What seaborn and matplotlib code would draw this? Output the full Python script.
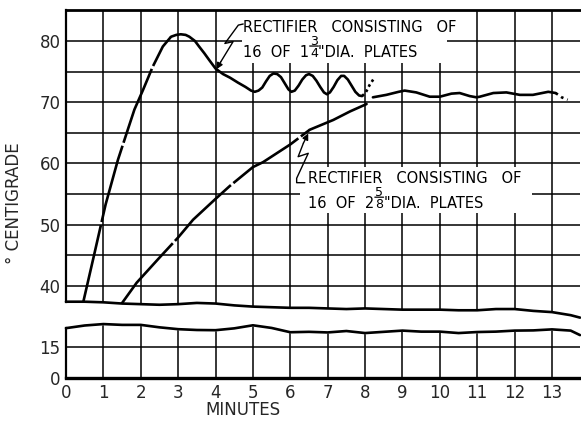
import matplotlib
matplotlib.use("Agg")
import matplotlib.pyplot as plt
from matplotlib.patches import Rectangle
from matplotlib.text import OffsetFrom
import seaborn as sns

# values: minutes, degrees centigrade
base_min = [0, 0.5, 1.0, 1.5, 2.0, 2.5, 3.0, 3.5, 4.0, 4.5, 5.0, 5.5, 6.0, 6.5, 7.0,
            7.5, 8.0, 8.5, 9.0, 9.5, 10.0, 10.5, 11.0, 11.5, 12.0, 12.5, 13.0, 13.5, 13.75]
base_temp = [37.4, 37.4, 37.3, 37.1, 37.0, 36.9, 37.0, 37.2, 37.1, 36.8, 36.6, 36.5, 36.4, 36.4,
             36.3, 36.2, 36.3, 36.2, 36.1, 36.1, 36.1, 36.0, 36.0, 36.2, 36.2, 35.9, 35.7, 35.2, 34.8]

low_min = base_min
low_temp = [24.4, 25.7, 26.4, 26.0, 26.0, 24.8, 23.9, 23.5, 23.4, 24.3, 25.8, 24.5, 22.4, 22.6,
            22.3, 23.0, 22.0, 22.6, 23.2, 22.7, 22.7, 22.0, 22.5, 22.7, 23.2, 23.3, 23.8, 23.2, 21.0]

# 1 3/4" plates
a_rise_min = [0.46, 0.75, 1.06, 1.39, 1.62, 1.83, 2.06, 2.32, 2.59, 2.81]
a_rise_temp = [37.3, 45.0, 53.3, 60.6, 64.9, 68.8, 72.0, 75.8, 79.1, 80.7]
a_min = [2.81, 2.95, 3.07, 3.2, 3.3, 3.45, 3.56, 3.7, 3.83, 4.0, 4.2, 4.39, 4.6, 4.8, 4.95,
         5.05, 5.15, 5.25, 5.35, 5.45, 5.55, 5.65, 5.75, 5.85, 5.95, 6.03, 6.12, 6.22, 6.32,
         6.42, 6.5, 6.6, 6.7, 6.8, 6.9, 6.98, 7.06, 7.16, 7.26, 7.36, 7.44, 7.54, 7.64, 7.74,
         7.84, 7.92]
a_temp = [80.7, 81.0, 81.1, 81.0, 80.7, 80.0, 79.1, 78.0, 76.9, 75.5, 74.6, 74.0, 73.2, 72.5, 71.9,
          71.7, 71.9, 72.4, 73.4, 74.3, 74.7, 74.6, 74.1, 73.1, 72.1, 71.7, 71.9, 72.7, 73.7,
          74.4, 74.6, 74.3, 73.5, 72.5, 71.6, 71.3, 71.6, 72.5, 73.6, 74.3, 74.3, 73.7, 72.7, 71.7,
          71.1, 71.0]
a_end_min = [7.92, 8.02, 8.12, 8.25]
a_end_temp = [71.0, 71.6, 72.8, 74.0]

# 2 5/8" plates
b_rise_min = [1.49, 1.89, 2.5, 3.0, 3.4, 4.0, 4.38, 5.0, 5.27, 6.0, 6.52]
b_rise_temp = [37.1, 40.5, 44.6, 47.9, 50.8, 54.2, 56.3, 59.4, 60.2, 63.1, 65.5]
b_min = [6.52, 7.15, 7.6, 8.04]
b_temp = [65.5, 67.1, 68.5, 69.7]
b_hold_min = [8.21, 8.57, 8.9, 9.06, 9.37, 9.73, 10.0, 10.31, 10.53, 10.8, 10.98, 11.07,
              11.43, 11.78, 12.14, 12.49, 12.9, 13.1]
b_hold_temp = [70.8, 71.2, 71.7, 71.9, 71.6, 70.9, 70.9, 71.4, 71.5, 71.0, 70.8, 70.9,
               71.5, 71.6, 71.2, 71.2, 71.7, 71.5]
b_end_min = [13.1, 13.26, 13.42]
b_end_temp = [71.5, 70.8, 70.4]

top_ticks = list(range(40, 86, 5))
low_ticks = [0, 15]
minutes = list(range(14))

sns.set_theme(style="white")
plt.rcParams["font.family"] = ["DejaVu Sans"]

TOP_LO, TOP_HI = 34.74, 85.07
LOW_HI = 28.4
XMAX = 13.75

fig = plt.figure(figsize=(5.81, 4.25), dpi=100)
ax = fig.add_axes([0.1136, 0.2518, 0.8847, 0.7247])
axl = fig.add_axes([0.1136, 0.1106, 0.8847, 0.1365])

curve = dict(color="black", lw=1.9, clip_on=False, zorder=3)
dash = (0, (30, 1.2))

# upper panel
ax.fill_between(base_min, TOP_LO - 1, base_temp, color="white", zorder=1)
sns.lineplot(x=base_min, y=base_temp, ax=ax, **curve)
sns.lineplot(x=a_rise_min, y=a_rise_temp, ax=ax, linestyle=dash, **curve)
sns.lineplot(x=a_min, y=a_temp, ax=ax, **curve)
sns.lineplot(x=a_end_min, y=a_end_temp, ax=ax, linestyle=(0, (1, 1.2)), **curve)
sns.lineplot(x=b_rise_min, y=b_rise_temp, ax=ax, linestyle=dash, **curve)
sns.lineplot(x=b_min, y=b_temp, ax=ax, **curve)
sns.lineplot(x=b_hold_min, y=b_hold_temp, ax=ax, **curve)
sns.lineplot(x=b_end_min, y=b_end_temp, ax=ax, linestyle=(0, (1, 1.5)), **curve)

ax.set_xlim(0, XMAX)
ax.set_ylim(TOP_LO, TOP_HI)
ax.set_xticks(minutes)
ax.set_yticks(top_ticks)
ax.set_yticklabels([str(t) if t % 10 == 0 else "" for t in top_ticks])
ax.tick_params(length=0, labelbottom=False, labelsize=12, pad=4)
ax.set_axisbelow(True)
ax.grid(True, color="black", lw=1.1)
for s in ["right", "bottom"]:
    ax.spines[s].set_visible(False)
ax.spines["top"].set_linewidth(2.0)
ax.spines["left"].set_linewidth(1.6)
ax.spines["top"].set_color("black")
ax.spines["left"].set_color("black")
ax.spines["left"].set_bounds(base_temp[0], TOP_HI)

# lower panel
axl.fill_between(low_min, low_temp, LOW_HI + 1, color="white", zorder=1)
sns.lineplot(x=low_min, y=low_temp, ax=axl, **curve)
axl.set_xlim(0, XMAX)
axl.set_ylim(0, LOW_HI)
axl.set_xticks(minutes)
axl.set_yticks(low_ticks)
axl.tick_params(length=0, labelsize=12, pad=4)
axl.set_axisbelow(True)
axl.grid(True, color="black", lw=1.1)
for s in ["right", "top"]:
    axl.spines[s].set_visible(False)
axl.spines["bottom"].set_linewidth(2.4)
axl.spines["left"].set_linewidth(1.6)
axl.spines["bottom"].set_color("black")
axl.spines["left"].set_color("black")
axl.spines["left"].set_bounds(0, low_temp[0])

# blank out the grid behind the two notes
ax.add_patch(Rectangle((4.7, 76.4), 5.5, TOP_HI - 76.4, color="white", lw=0, zorder=1))
ax.add_patch(Rectangle((6.26, 51.9), 6.2, 7.5, color="white", lw=0, zorder=1))

# notes with zig-zag pointers, the plate size written as a stacked fraction
txt = dict(fontsize=10.5, color="black", zorder=4)
small = dict(fontsize=9, color="black", zorder=4, ha="left", va="baseline",
             textcoords="offset points")
DESC = 2.3


def note(x, y, head, whole, num, den, rest):
    ax.text(x, y + 4.1, head, va="baseline", ha="left", **txt)
    t = ax.text(x, y, whole, va="baseline", ha="left", **txt)
    d = ax.annotate(str(den), xy=(1, y), xycoords=(t, "data"), xytext=(0.8, 0), **small)
    ax.annotate(str(num), xy=(1, y), xycoords=(t, "data"), xytext=(0.8, 8.8), **small)
    ref = OffsetFrom(t, (1, 0))
    ax.annotate("", xy=(6.8, DESC + 7.7), xycoords=ref,
                xytext=(0.5, DESC + 7.7), textcoords=ref,
                arrowprops=dict(arrowstyle="-", color="black", lw=0.9, shrinkA=0, shrinkB=0))
    ax.annotate(rest, xy=(1, y), xycoords=(d, "data"), xytext=(0.4, 0),
                textcoords="offset points", va="baseline", ha="left", **txt)


note(4.73, 77.4, "RECTIFIER   CONSISTING   OF", "16  OF  1", 3, 4, '"DIA.  PLATES')
ax.plot([4.74, 4.61, 4.25, 4.47, 4.14], [82.78, 82.6, 79.6, 79.9, 76.6], color="black", lw=1)
ax.annotate("", xy=(4.03, 75.4), xytext=(4.14, 76.6),
            arrowprops=dict(arrowstyle="-|>", color="black", lw=1, mutation_scale=9,
                            shrinkA=0, shrinkB=0))

note(6.47, 52.7, "RECTIFIER   CONSISTING   OF", "16  OF  2", 5, 8, '"DIA.  PLATES')
ax.plot([6.39, 6.17, 6.17, 6.48, 6.21, 6.35], [56.85, 56.85, 57.57, 61.65, 61.1, 63.3],
        color="black", lw=1)
ax.annotate("", xy=(6.48, 64.9), xytext=(6.35, 63.3),
            arrowprops=dict(arrowstyle="-|>", color="black", lw=1, mutation_scale=9,
                            shrinkA=0, shrinkB=0))

fig.text(0.024, 0.522, "° CENTIGRADE", rotation=90, ha="center", va="center", fontsize=12)
fig.text(0.418, 0.035, "MINUTES", ha="center", va="center", fontsize=12)

fig.savefig("out.png", dpi=100, facecolor="white")
